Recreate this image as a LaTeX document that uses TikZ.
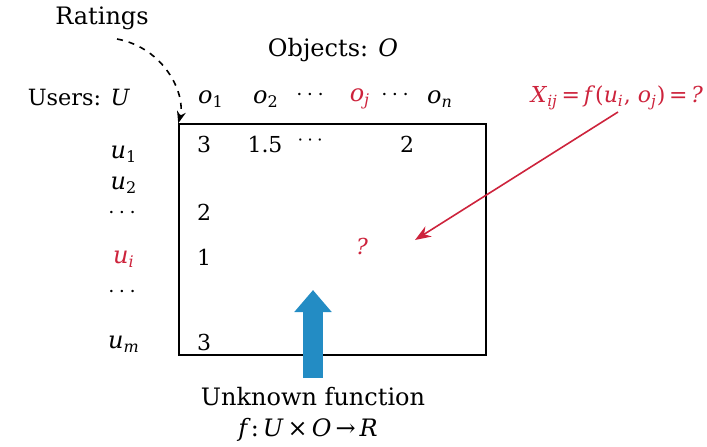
\documentclass[tikz,border=0pt]{standalone}
\usepackage{amsmath, amssymb}
\usepackage{fontspec}
\setmainfont{DejaVu Serif}
\usepackage{tikz}
\usetikzlibrary{positioning, arrows.meta, calc}

\definecolor{qred}{RGB}{205,35,60}
\definecolor{fnblue}{RGB}{35,140,196}

\newcommand{\ivar}[2]{\textit{#1}\textsubscript{#2}}

\tikzset{
  lbl/.style={inner sep=1pt, font=\fontsize{12}{14}\selectfont},
  entry/.style={inner sep=1pt, font=\fontsize{11}{13}\selectfont},
  unk/.style={lbl, text=qred},
}

\begin{document}
\begin{tikzpicture}[x=0.5pt, y=-0.5pt]
        \useasboundingbox (0,0) rectangle (707,446);
        % rating matrix
        \node[draw, line width=0.75pt, minimum width=153.5pt, minimum height=115.5pt, inner sep=0pt] (mat) at (332.5,239.5) {};
        % headings
        \node[lbl] (ratings) at (102,18) {Ratings};
        \node[lbl] (objects) at (333,50) {Objects: \textit{O}};
        \node[lbl, font=\fontsize{11.2}{13}\selectfont] (users) at (79,97) {Users: \textit{U}};
        % object columns
        \node[lbl] (o1) at (211,99) {\ivar{o}{1}};
        \node[lbl] (o2) at (266,99) {\ivar{o}{2}};
        \node[lbl] (odots) at (312,95) {$\cdots$};
        \node[unk] (oj) at (360,99) {\ivar{o}{\textit{j}}};
        \node[lbl] (odots2) at (397,95) {$\cdots$};
        \node[lbl] (on) at (440,99) {\ivar{o}{\textit{n}}};
        % user rows
        \node[lbl] (u1) at (124,154) {\ivar{u}{1}};
        \node[lbl] (u2) at (124,185) {\ivar{u}{2}};
        \node[lbl] (udots) at (124,213) {$\cdots$};
        \node[unk] (ui) at (124,259) {\ivar{u}{\textit{i}}};
        \node[lbl] (udots2) at (124,292) {$\cdots$};
        \node[lbl] (um) at (124,344) {\ivar{u}{\textit{m}}};
        % known entries
        \node[entry] (r11) at (204,144) {3};
        \node[entry] (r12) at (265,144) {1.5};
        \node[entry] (r1d) at (312,141) {$\cdots$};
        \node[entry] (r1n) at (407,144) {2};
        \node[entry] (r31) at (204,212) {2};
        \node[entry] (ri1) at (204,257) {1};
        \node[entry] (rm1) at (204,342) {3};
        % unknown entry
        \node[entry, text=qred] (rij) at (362,246) {\textit{?}};
        \node[unk, font=\fontsize{11}{13}\selectfont] (xij) at (617,98) {\ivar{X}{\textit{ij}}\,=\,\textit{f}(\ivar{u}{\textit{i}}, \ivar{o}{\textit{j}})\,=\,\textit{?}};
        % function
        \node[lbl] (fname) at (313,397) {Unknown function};
        \node[lbl] (fmap) at (308,430) {\textit{f}:\,\textit{U}\,×\,\textit{O}\,→\,\textit{R}};
        \coordinate (rfoot) at (117,39);
        \coordinate (xfoot) at (618,112);
        \coordinate (qtip) at (415,240);
        \coordinate (fbase) at (313,378);
        \coordinate (ftip) at (313,290);
        % arrows
        \draw[dashed, thick, -{Stealth[length=6pt]}] (rfoot) .. controls (165,48) and (186,95) .. (mat.north west);
        \draw[qred, thick, -{Stealth[length=8pt, width=6pt]}] (xfoot) -- (qtip);
        \draw[fnblue, line width=10pt, -{Triangle[width=18pt, length=11pt]}] (fbase) -- (ftip);
      \end{tikzpicture}
\end{document}
